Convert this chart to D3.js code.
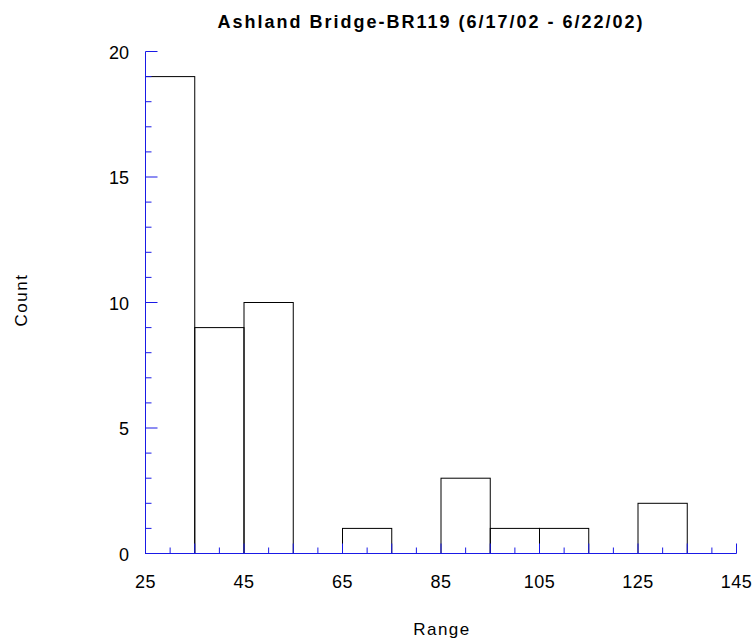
<!DOCTYPE html>
<html lang="en">
<head>
<meta charset="UTF-8">
<title>Ashland Bridge-BR119</title>
<script src="https://d3js.org/d3.v7.min.js"></script>
<style>
  body { margin: 0; background: #fff; }
  text { font-family: "Liberation Sans", Arial, sans-serif; fill: #000; }
</style>
</head>
<body>
<div id="chart"></div>
<script>
  const width = 754;
  const height = 641;

  // bin edges and counts
  const binStarts = [25, 35, 45, 55, 65, 75, 85, 95, 105, 115, 125, 135];
  const binWidth = 10;
  const counts = [19, 9, 10, 0, 1, 0, 3, 1, 1, 0, 2, 0];
  const xTickLabels = [25, 45, 65, 85, 105, 125, 145];
  const yTickLabels = [0, 5, 10, 15, 20];

  const svg = d3.select("#chart").append("svg")
    .attr("width", width)
    .attr("height", height);

  const x = d3.scaleLinear().domain([25, 145]).range([145.5, 736.5]);
  const y = d3.scaleLinear().domain([0, 20]).range([553.5, 51.5]);
  const axisColor = "#1a1ae6";

  // bars
  const bins = binStarts.map((s, i) => ({ x0: s, x1: s + binWidth, n: counts[i] }))
    .filter(d => d.n > 0);
  svg.append("g").selectAll("rect")
    .data(bins)
    .enter().append("rect")
    .attr("x", d => x(d.x0))
    .attr("y", d => y(d.n))
    .attr("width", d => x(d.x1) - x(d.x0))
    .attr("height", d => y(0) - y(d.n))
    .attr("fill", "none")
    .attr("stroke", "#000")
    .attr("stroke-width", 1);

  // y axis
  const gy = svg.append("g").attr("stroke", axisColor).attr("stroke-width", 1);
  gy.append("line").attr("x1", x(25)).attr("x2", x(25)).attr("y1", y(0)).attr("y2", y(20));
  d3.range(0, 21).forEach(v => {
    const major = v % 5 === 0;
    gy.append("line")
      .attr("x1", x(25)).attr("x2", x(25) + (major ? 12 : 6))
      .attr("y1", y(v)).attr("y2", y(v));
  });
  svg.append("g").selectAll("text")
    .data(yTickLabels)
    .enter().append("text")
    .attr("x", 129)
    .attr("y", d => y(d))
    .attr("dy", "0.4em")
    .attr("text-anchor", "end")
    .style("font-size", "18px")
    .text(d => d);

  // x axis
  const gx = svg.append("g").attr("stroke", axisColor).attr("stroke-width", 1);
  gx.append("line").attr("x1", x(25)).attr("x2", x(145)).attr("y1", y(0)).attr("y2", y(0));
  d3.range(25, 146, 5).forEach(v => {
    const major = (v - 25) % 10 === 0;
    gx.append("line")
      .attr("x1", x(v)).attr("x2", x(v))
      .attr("y1", y(0)).attr("y2", y(0) - (major ? 10 : 6));
  });
  svg.append("g").selectAll("text")
    .data(xTickLabels)
    .enter().append("text")
    .attr("x", d => x(d))
    .attr("y", 588)
    .attr("text-anchor", "middle")
    .style("font-size", "18px")
    .style("letter-spacing", "0.5px")
    .text(d => d);

  // titles
  svg.append("text")
    .attr("x", 431).attr("y", 28)
    .attr("text-anchor", "middle")
    .style("font-size", "18px")
    .style("font-weight", "bold")
    .style("letter-spacing", "2px")
    .text("Ashland Bridge-BR119 (6/17/02 - 6/22/02)");

  svg.append("text")
    .attr("x", 442).attr("y", 635)
    .attr("text-anchor", "middle")
    .style("font-size", "17px")
    .style("letter-spacing", "1.5px")
    .text("Range");

  svg.append("text")
    .attr("transform", "translate(27,300) rotate(-90)")
    .attr("text-anchor", "middle")
    .style("font-size", "17px")
    .style("letter-spacing", "1.5px")
    .text("Count");
</script>
</body>
</html>
